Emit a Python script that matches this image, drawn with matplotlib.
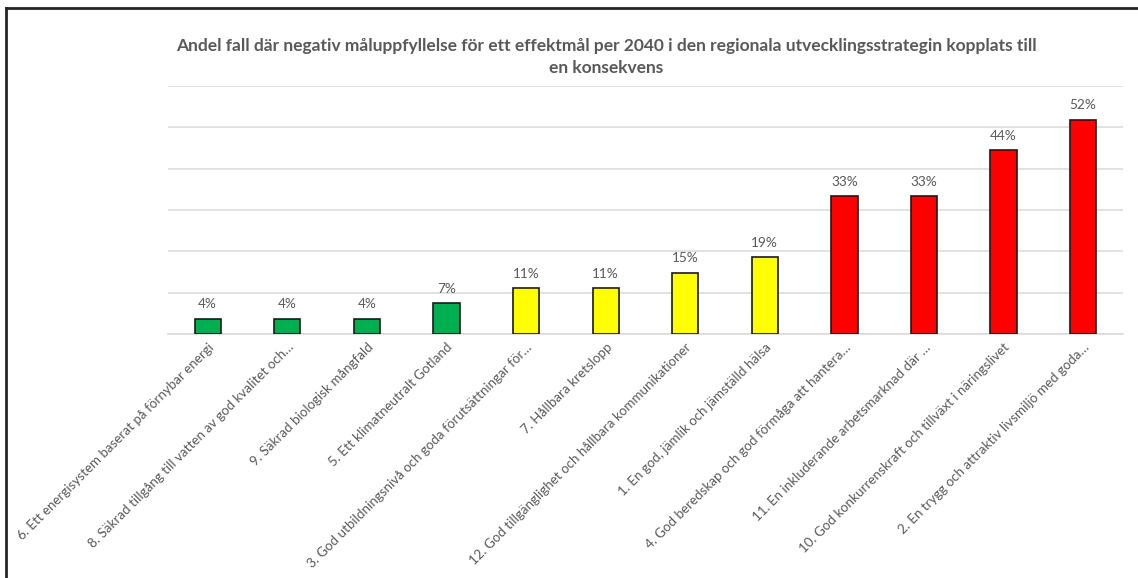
import matplotlib.pyplot as plt
from matplotlib.lines import Line2D

# Andel (%) per effektmål, sorterat stigande
labels = [
    '6. Ett energisystem baserat på förnybar energi',
    '8. Säkrad tillgång till vatten av god kvalitet och…',
    '9. Säkrad biologisk mångfald',
    '5. Ett klimatneutralt Gotland',
    '3. God utbildningsnivå och goda förutsättningar för…',
    '7. Hållbara kretslopp',
    '12. God tillgänglighet och hållbara kommunikationer',
    '1. En god, jämlik och jämställd hälsa',
    '4. God beredskap och god förmåga att hantera…',
    '11. En inkluderande arbetsmarknad där …',
    '10. God konkurrenskraft och tillväxt i näringslivet',
    '2. En trygg och attraktiv livsmiljö med goda…',
]
values = [3.70, 3.70, 3.70, 7.41, 11.11, 11.11, 14.81, 18.52, 33.33, 33.33, 44.44, 51.85]
levels = ['green', 'green', 'green', 'green', 'yellow', 'yellow', 'yellow', 'yellow',
          'red', 'red', 'red', 'red']

title = ('Andel fall där negativ måluppfyllelse för ett effektmål per 2040 i den regionala '
         'utvecklingsstrategin kopplats till\nen konsekvens')

palette = {'green': '#00B050', 'yellow': '#FFFF00', 'red': '#FF0000'}
grey = '#595959'

plt.rcParams['font.family'] = ['Lato', 'DejaVu Sans']

fig = plt.figure(figsize=(11.38, 5.78), dpi=100)
ax = fig.add_axes([0.1476, 0.4221, 0.8392, 0.4291])

x = range(len(values))
bars = ax.bar(x, values, width=0.33, color=[palette[l] for l in levels],
              edgecolor='#1a1a1a', linewidth=1.2, zorder=3)

# data labels
for bar, v in zip(bars, values):
    ax.annotate(f'{v:.0f}%', (bar.get_x() + bar.get_width() / 2, v),
                xytext=(0, 6), textcoords='offset points', ha='center', va='bottom',
                fontsize=9.8, color=grey)

ax.set_ylim(0, 60)
ax.set_xlim(-0.5, len(values) - 0.5)
ax.set_yticks(range(0, 61, 10))
ax.yaxis.grid(True, color='#D9D9D9', linewidth=1.1, zorder=0)
ax.tick_params(axis='y', left=False, labelleft=False)
ax.tick_params(axis='x', length=0, pad=5)
for s in ['top', 'right', 'left']:
    ax.spines[s].set_visible(False)
ax.spines['bottom'].set_color('#D9D9D9')
ax.spines['bottom'].set_linewidth(1.1)

ax.set_xticks(list(x))
ax.set_xticklabels(labels, rotation=45, ha='right', rotation_mode='anchor',
                   fontsize=9.6, color=grey)

fig.text(0.533, 0.935, title, ha='center', va='top', fontsize=12.5,
         fontweight='bold', color=grey, linespacing=1.5)

# chart frame (only top and left visible in the crop)
fig.add_artist(Line2D([6 / 1138, 6 / 1138], [0, 1 - 8 / 578], color='#262626',
                      linewidth=2, transform=fig.transFigure))
fig.add_artist(Line2D([6 / 1138, 1], [1 - 8 / 578, 1 - 8 / 578], color='#262626',
                      linewidth=2, transform=fig.transFigure))

fig.savefig('out.png', dpi=100)
